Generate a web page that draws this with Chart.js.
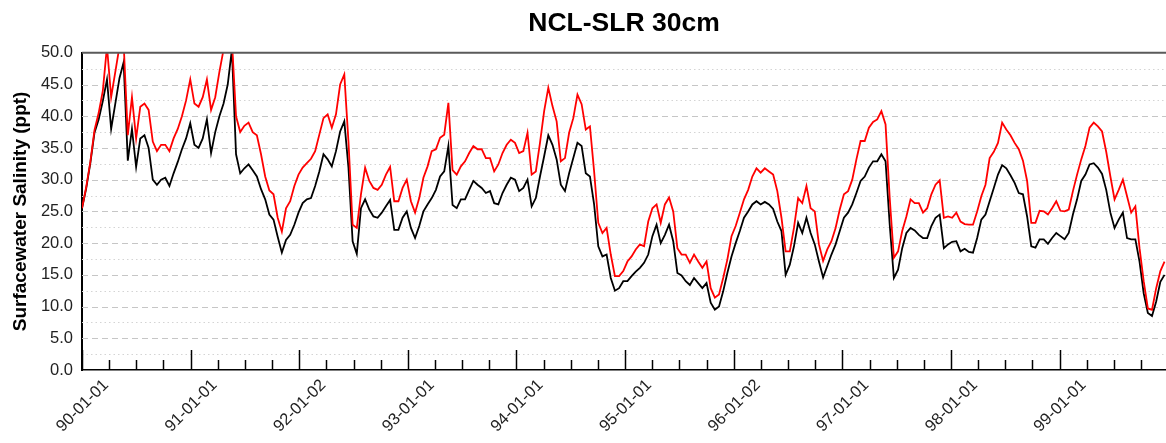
<!DOCTYPE html>
<html>
<head>
<meta charset="utf-8">
<title>NCL-SLR 30cm</title>
<script src="https://cdn.jsdelivr.net/npm/chart.js@4.4.1/dist/chart.umd.min.js"></script>
<style>
  html, body { margin: 0; padding: 0; background: #ffffff; }
  #wrap { width: 1166px; height: 443px; position: relative; }
</style>
</head>
<body>
<div id="wrap"><canvas id="chart"></canvas></div>
<script>
// Biweekly samples starting 1990-01-01 (values in ppt)
const STEP_DAYS = 14;
const DAYS_PER_YEAR = 365.25;

const tickLabels = ['90-01-01', '91-01-01', '92-01-02', '93-01-01', '94-01-01',
                    '95-01-01', '96-01-02', '97-01-01', '98-01-01', '99-01-01'];

// red trace
const salinityHigh = [
  25.5, 28.8, 32.8, 37.8, 40.5, 44.0, 51.0, 43.0, 47.0, 51.0,
  51.5, 37.0, 43.0, 36.5, 41.5, 42.0, 41.0, 36.0, 34.5, 35.5,
  35.5, 34.5, 36.5, 38.0, 40.0, 42.5, 45.8, 42.0, 41.5, 43.0,
  45.8, 41.0, 43.0, 47.0, 50.5, 51.0, 52.0, 40.0, 37.5, 38.5,
  39.0, 37.5, 37.0, 34.0, 30.5, 28.3, 27.7, 24.0, 21.8, 25.5,
  26.6, 29.0, 30.8, 31.9, 32.6, 33.3, 34.5, 37.1, 39.7, 40.3,
  38.2, 40.3, 45.0, 46.6, 36.0, 22.9, 22.4, 27.7, 31.9, 29.8,
  28.7, 28.4, 29.2, 30.8, 32.0, 26.6, 26.6, 28.7, 30.0, 26.6,
  24.8, 27.1, 30.3, 32.1, 34.5, 34.8, 36.6, 37.1, 42.1, 31.5,
  30.8, 32.1, 32.9, 34.2, 35.3, 34.8, 34.8, 33.4, 33.4, 31.3,
  32.4, 34.2, 35.5, 36.3, 35.8, 34.2, 34.5, 37.4, 30.8, 31.3,
  35.8, 40.8, 44.5, 41.6, 39.2, 32.9, 33.4, 37.4, 39.7, 43.4,
  41.9, 37.9, 38.4, 31.3, 23.2, 21.6, 22.4, 18.2, 14.8, 14.8,
  15.6, 17.1, 17.9, 19.0, 19.8, 19.5, 23.4, 25.5, 26.1, 23.2,
  26.1, 27.2, 25.0, 19.2, 18.2, 18.2, 16.9, 18.2, 17.1, 16.1,
  17.1, 12.9, 11.4, 11.9, 14.5, 17.4, 21.1, 22.7, 24.8, 26.9,
  28.4, 30.5, 31.8, 31.1, 31.8, 31.3, 30.8, 28.2, 24.0, 18.7,
  18.7, 22.4, 27.1, 26.3, 29.0, 25.5, 25.0, 19.8, 17.2, 19.0,
  20.3, 22.4, 25.3, 27.7, 28.2, 30.0, 33.2, 36.1, 36.1, 38.2,
  39.1, 39.5, 40.8, 38.7, 27.1, 17.7, 18.7, 21.9, 24.2, 26.9,
  26.3, 26.3, 24.8, 25.5, 27.7, 29.2, 29.9, 24.0, 24.2, 24.0,
  24.8, 23.4, 23.0, 22.9, 22.9, 25.0, 27.4, 29.2, 33.4, 34.4,
  35.8, 39.0, 37.9, 37.0, 35.8, 34.8, 33.0, 29.8, 23.2, 23.2,
  25.1, 25.0, 24.5, 25.5, 26.6, 25.1, 25.0, 25.3, 28.2, 30.8,
  33.2, 35.3, 38.2, 39.0, 38.4, 37.6, 34.4, 30.5, 26.9, 28.4,
  30.0, 27.4, 24.8, 25.8, 19.2, 14.0, 9.7, 9.5, 12.9, 15.6,
  17.1
];

// black trace
const salinityLow = [
  25.5, 28.6, 32.6, 37.4, 39.5, 42.4, 45.8, 38.0, 42.0, 46.0,
  48.5, 33.0, 38.0, 32.0, 36.5, 37.0, 35.0, 30.0, 29.2, 30.0,
  30.3, 29.0, 31.0, 32.8, 34.8, 36.5, 38.9, 35.5, 35.0, 36.5,
  39.5, 34.2, 37.5, 40.0, 42.0, 45.0, 50.5, 34.0, 31.0, 31.8,
  32.4, 31.5, 30.5, 28.5, 26.9, 24.5, 23.7, 21.0, 18.5, 20.5,
  21.3, 22.9, 24.8, 26.3, 26.9, 27.1, 29.0, 31.3, 34.0, 33.2,
  32.1, 34.5, 37.6, 39.2, 31.9, 20.3, 18.3, 25.5, 26.9, 25.3,
  24.2, 24.0, 24.8, 25.8, 26.8, 22.1, 22.1, 24.0, 25.0, 22.4,
  20.8, 22.7, 25.0, 26.1, 27.1, 28.4, 30.5, 31.3, 35.3, 26.0,
  25.5, 26.9, 26.9, 28.4, 29.8, 29.2, 28.7, 27.9, 28.2, 26.3,
  26.1, 27.9, 29.2, 30.3, 30.0, 28.2, 28.7, 30.0, 25.8, 27.1,
  30.5, 33.7, 37.0, 35.5, 33.2, 29.2, 28.2, 31.0, 33.4, 35.8,
  35.3, 31.0, 30.5, 26.1, 19.5, 17.9, 18.2, 14.5, 12.5, 12.9,
  14.0, 14.0, 14.8, 15.5, 16.1, 16.9, 18.2, 21.1, 22.9, 20.0,
  21.3, 22.9, 20.3, 15.3, 14.9, 14.0, 13.4, 14.5, 13.7, 12.9,
  13.7, 10.6, 9.5, 10.0, 12.4, 15.3, 17.9, 20.0, 21.9, 24.0,
  25.0, 26.1, 26.6, 26.1, 26.5, 26.1, 25.4, 23.4, 21.9, 15.0,
  16.6, 19.5, 23.2, 21.6, 24.0, 21.6, 19.8, 17.1, 14.6, 16.4,
  18.2, 19.8, 21.9, 24.0, 24.8, 26.1, 27.9, 29.8, 30.5, 31.9,
  32.9, 32.9, 34.0, 32.9, 22.9, 14.5, 15.8, 19.2, 21.6, 22.4,
  22.0, 21.3, 20.8, 20.8, 22.7, 24.0, 24.5, 19.2, 19.8, 20.2,
  20.3, 18.7, 19.1, 18.6, 18.5, 20.8, 23.7, 24.5, 26.6, 28.7,
  30.8, 32.3, 31.8, 30.7, 29.5, 27.9, 27.7, 24.2, 19.5, 19.3,
  20.6, 20.6, 19.9, 20.8, 21.6, 21.1, 20.6, 21.6, 24.5, 26.9,
  29.8, 30.8, 32.4, 32.6, 31.9, 30.9, 28.4, 24.8, 22.4, 23.7,
  24.8, 20.8, 20.6, 20.6, 17.1, 12.1, 9.0, 8.5, 10.8, 13.9,
  15.0
];

const FONT = "'Liberation Sans', Arial, Helvetica, sans-serif";
Chart.defaults.font.family = FONT;

const toPoints = values => values.map((v, i) => ({ x: i * STEP_DAYS, y: v }));

// quarterly tick positions; every fourth one carries a date label
const quarterTicks = [];
for (let q = 0; q < 40; q++) quarterTicks.push(q * DAYS_PER_YEAR / 4);

// dashed/dotted horizontal guides, inward x ticks and the top frame line
const framePlugin = {
  id: 'framePlugin',
  beforeDatasetsDraw(chart) {
    const { ctx, chartArea: a, scales: { y } } = chart;
    const vals = y.ticks.map(t => t.value);
    ctx.save();
    ctx.lineWidth = 1;
    for (let k = 0; k < vals.length - 1; k++) {
      const half = (vals[k] + vals[k + 1]) / 2;
      const py = Math.round(y.getPixelForValue(half)) + 0.5;
      ctx.setLineDash([1.5, 3]);
      ctx.strokeStyle = '#d4d4d4';
      ctx.beginPath(); ctx.moveTo(a.left, py); ctx.lineTo(a.right, py); ctx.stroke();
    }
    vals.forEach(v => {
      if (v <= y.min || v >= y.max) return;
      const py = Math.round(y.getPixelForValue(v)) + 0.5;
      ctx.setLineDash([6, 4]);
      ctx.strokeStyle = '#c6c6c6';
      ctx.beginPath(); ctx.moveTo(a.left, py); ctx.lineTo(a.right, py); ctx.stroke();
    });
    ctx.restore();
  },
  afterDatasetsDraw(chart) {
    const { ctx, chartArea: a, scales: { x } } = chart;
    ctx.save();
    ctx.setLineDash([]);
    ctx.strokeStyle = '#000';
    ctx.lineWidth = 1.5;
    x.ticks.forEach((t, i) => {
      const px = Math.round(x.getPixelForValue(t.value)) + 0.5;
      const len = i % 4 === 0 ? 20 : 10;
      ctx.beginPath(); ctx.moveTo(px, a.bottom); ctx.lineTo(px, a.bottom - len); ctx.stroke();
    });
    ctx.strokeStyle = '#5a5a5a';
    ctx.lineWidth = 2;
    ctx.beginPath(); ctx.moveTo(a.left, a.top); ctx.lineTo(a.right, a.top); ctx.stroke();
    ctx.restore();
  }
};

new Chart(document.getElementById('chart'), {
  type: 'line',
  data: {
    datasets: [
      {
        label: 'High',
        data: toPoints(salinityHigh),
        borderColor: '#ff0000',
        borderWidth: 1.8,
        pointRadius: 0,
        tension: 0,
        order: 0
      },
      {
        label: 'Low',
        data: toPoints(salinityLow),
        borderColor: '#000000',
        borderWidth: 1.8,
        pointRadius: 0,
        tension: 0,
        order: 1
      }
    ]
  },
  options: {
    responsive: true,
    maintainAspectRatio: false,
    animation: false,
    devicePixelRatio: 1,
    layout: { padding: { top: 0, left: 0, right: 0, bottom: 0 } },
    plugins: {
      legend: { display: false },
      tooltip: { enabled: false },
      title: {
        display: true,
        text: 'NCL-SLR 30cm',
        fullSize: false,
        color: '#000',
        font: { size: 26.5, weight: 'bold', family: FONT },
        padding: { top: 8, bottom: 13 }
      }
    },
    scales: {
      x: {
        type: 'linear',
        min: 0,
        max: 3645,
        afterBuildTicks(scale) {
          scale.ticks = quarterTicks.map(v => ({ value: v }));
        },
        afterFit(scale) { scale.height = 73; },
        grid: { display: false, drawTicks: false },
        border: { display: true, color: '#000', width: 1.5 },
        ticks: {
          autoSkip: false,
          minRotation: 45,
          maxRotation: 45,
          labelOffset: 24,
          padding: 5.5,
          color: '#222',
          font: { size: 16.5, family: FONT },
          callback(value, index) {
            return index % 4 === 0 ? tickLabels[index / 4] : '';
          }
        }
      },
      y: {
        min: 0,
        max: 50,
        afterFit(scale) { scale.width = 82; },
        grid: { display: false, drawTicks: false },
        border: { display: true, color: '#000', width: 2 },
        ticks: {
          stepSize: 5,
          padding: 9,
          color: '#222',
          font: { size: 16.5, family: FONT },
          callback: v => v.toFixed(1)
        },
        title: {
          display: true,
          text: 'Surfacewater Salinity (ppt)',
          color: '#000',
          font: { size: 19, weight: 'bold', family: FONT },
          padding: { top: 9, bottom: 0 }
        }
      }
    }
  },
  plugins: [framePlugin]
});
</script>
</body>
</html>
